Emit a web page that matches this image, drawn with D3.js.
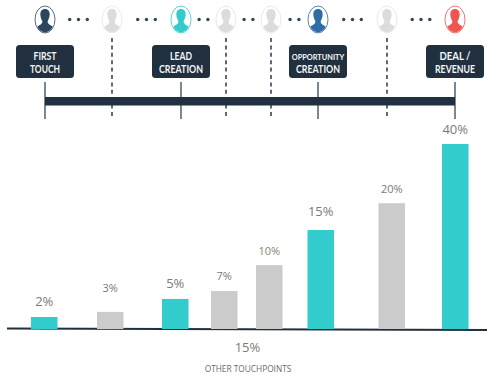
<!DOCTYPE html>
<html>
<head>
<meta charset="utf-8">
<script src="https://cdn.jsdelivr.net/npm/d3@7"></script>
<style>
  html, body { margin: 0; padding: 0; background: #fff; }
  svg { display: block; font-family: "Open Sans", sans-serif; }
</style>
</head>
<body>
<div id="chart"></div>
<script>
// data
const touches = ["t1", "t2", "t3", "t4", "t5", "t6", "t7", "t8"];
const percentLabels = ["2%", "3%", "5%", "7%", "10%", "15%", "20%", "40%"];
// bar heights, they are not in proportion to the labels
const barValues = [2.6, 3.7, 6.5, 8.2, 13.8, 21.4, 27.2, 40];
const touchKinds = ["first", "other", "lead", "other", "other", "opp", "other", "deal"];
const dotCounts = [3, 3, 2, 2, 2, 3, 3];
const stageTouches = ["t1", "t3", "t6", "t8"];
const stageNames = [["FIRST", "TOUCH"], ["LEAD", "CREATION"], ["OPPORTUNITY", "CREATION"], ["DEAL /", "REVENUE"]];
const footerPercent = "15%";
const footerLabel = "OTHER TOUCHPOINTS";

const width = 500, height = 384;
const navy = "#20303f", teal = "#32cccc", grey = "#cbcbcb";

const svg = d3.select("#chart").append("svg").attr("width", width).attr("height", height);

// touches are unevenly spaced so these are ordinal scales
const stageX = d3.scaleOrdinal().domain(touches).range([45, 112, 181, 226, 271, 318, 387, 455]);
const barX = d3.scaleOrdinal().domain(touches).range([31, 97, 162, 211, 256, 307.5, 378.5, 442]);
const labelGap = d3.scaleOrdinal().domain(touches).range([10.5, 20, 11, 11, 10, 14, 10.5, 10]);
const barWidth = 26.5;
const y = d3.scaleLinear().domain([0, 40]).range([329, 144]);

// the box font in the picture is condensed, so squeeze the lines to their measured width
const lineWidth = { "FIRST": 23, "TOUCH": 30, "LEAD": 22, "CREATION": 44, "OPPORTUNITY": 52.5, "DEAL /": 31, "REVENUE": 40 };

const iconColor = d3.scaleOrdinal()
  .domain(["first", "other", "lead", "opp", "deal"])
  .range(["#2c4660", "#dcdcdc", teal, "#2f6ca6", "#f0564f"]);

// timeline
svg.selectAll(".dash").data(touches.filter((d, i) => touchKinds[i] === "other")).enter().append("line")
  .attr("x1", stageX).attr("x2", stageX)
  .attr("y1", 38).attr("y2", 119)
  .attr("stroke", "#34475a").attr("stroke-width", 1.6).attr("stroke-dasharray", "4 3.4");

svg.selectAll(".tick").data(stageTouches).enter().append("line")
  .attr("x1", stageX).attr("x2", stageX)
  .attr("y1", 82).attr("y2", 119)
  .attr("stroke", "#34475a").attr("stroke-width", 1.3);

svg.append("rect")
  .attr("x", stageX("t1")).attr("y", 97)
  .attr("width", stageX("t8") - stageX("t1")).attr("height", 8.5)
  .attr("fill", navy);

// stage labels
const box = svg.selectAll(".stage").data(stageTouches).enter().append("g")
  .attr("transform", d => "translate(" + stageX(d) + ",0)");

box.append("rect")
  .attr("x", -29).attr("y", 45).attr("width", 58).attr("height", 33).attr("rx", 3.5)
  .attr("fill", navy);

box.each(function(d, i) {
  const g = d3.select(this);
  stageNames[i].forEach((line, j) => {
    g.append("text")
      .attr("y", 59.5 + j * 13)
      .attr("text-anchor", "middle")
      .attr("fill", "#f4f6f7")
      .attr("font-family", "Lato, sans-serif")
      .attr("font-weight", 700)
      .attr("font-size", line === "OPPORTUNITY" ? 8.2 : 10.5)
      .attr("textLength", lineWidth[line])
      .attr("lengthAdjust", "spacingAndGlyphs")
      .text(line);
  });
});

// people
const person = svg.selectAll(".person").data(touches).enter().append("g")
  .attr("transform", d => "translate(" + stageX(d) + ",19.5)");

person.append("ellipse")
  .attr("rx", 10).attr("ry", 13.5)
  .attr("fill", "#fff")
  .attr("stroke", (d, i) => iconColor(touchKinds[i]))
  .attr("stroke-opacity", (d, i) => touchKinds[i] === "other" ? 0.7 : 0.9)
  .attr("stroke-width", 0.9);

person.append("clipPath").attr("id", d => "clip-" + d)
  .append("ellipse").attr("rx", 9.4).attr("ry", 12.9);

person.append("path")
  .attr("clip-path", d => "url(#clip-" + d + ")")
  .attr("d", "M0,-10.5C3.6,-10.5 5,-7.5 4.6,-4C4.3,-1.5 3.3,0.5 2.6,1.8C2.6,4 4,5 6,6L10,8.5V14H-10V8.5L-6,6C-4,5 -2.6,4 -2.6,1.8C-3.3,0.5 -4.3,-1.5 -4.6,-4C-5,-7.5 -3.6,-10.5 0,-10.5Z")
  .attr("fill", (d, i) => iconColor(touchKinds[i]));

// dots between the people
dotCounts.forEach((count, i) => {
  const mid = (stageX(touches[i]) + stageX(touches[i + 1])) / 2;
  const gap = 8.8;
  svg.selectAll(".dot" + i).data(d3.range(count)).enter().append("circle")
    .attr("cx", k => mid + (k - (count - 1) / 2) * gap)
    .attr("cy", 19.5).attr("r", 1.7)
    .attr("fill", "#33475a");
});

// baseline
svg.append("line")
  .attr("x1", 7).attr("x2", 487).attr("y1", 328.5).attr("y2", 330)
  .attr("stroke", navy).attr("stroke-width", 2);

// bars
svg.selectAll(".bar").data(touches).enter().append("rect")
  .attr("x", barX)
  .attr("y", (d, i) => y(barValues[i]))
  .attr("width", barWidth)
  .attr("height", (d, i) => y(0) - y(barValues[i]))
  .attr("fill", (d, i) => touchKinds[i] === "other" ? grey : teal);

// value labels, the milestone ones are a bit larger
svg.selectAll(".value").data(touches).enter().append("text")
  .attr("x", d => barX(d) + barWidth / 2)
  .attr("y", (d, i) => y(barValues[i]) - labelGap(d))
  .attr("text-anchor", "middle")
  .attr("font-size", (d, i) => touchKinds[i] === "other" ? 11 : 13)
  .attr("fill", (d, i) => percentLabels[i] === "10%" ? "#8f7f68" : "#7a7a7a")
  .text((d, i) => percentLabels[i]);

// footer
svg.append("text")
  .attr("x", 247.5).attr("y", 351.5)
  .attr("text-anchor", "middle").attr("font-size", 13).attr("fill", "#7a7a7a")
  .text(footerPercent);

svg.append("text")
  .attr("x", 248).attr("y", 372)
  .attr("text-anchor", "middle").attr("font-size", 8.3).attr("fill", "#666c75")
  .text(footerLabel);
</script>
</body>
</html>
